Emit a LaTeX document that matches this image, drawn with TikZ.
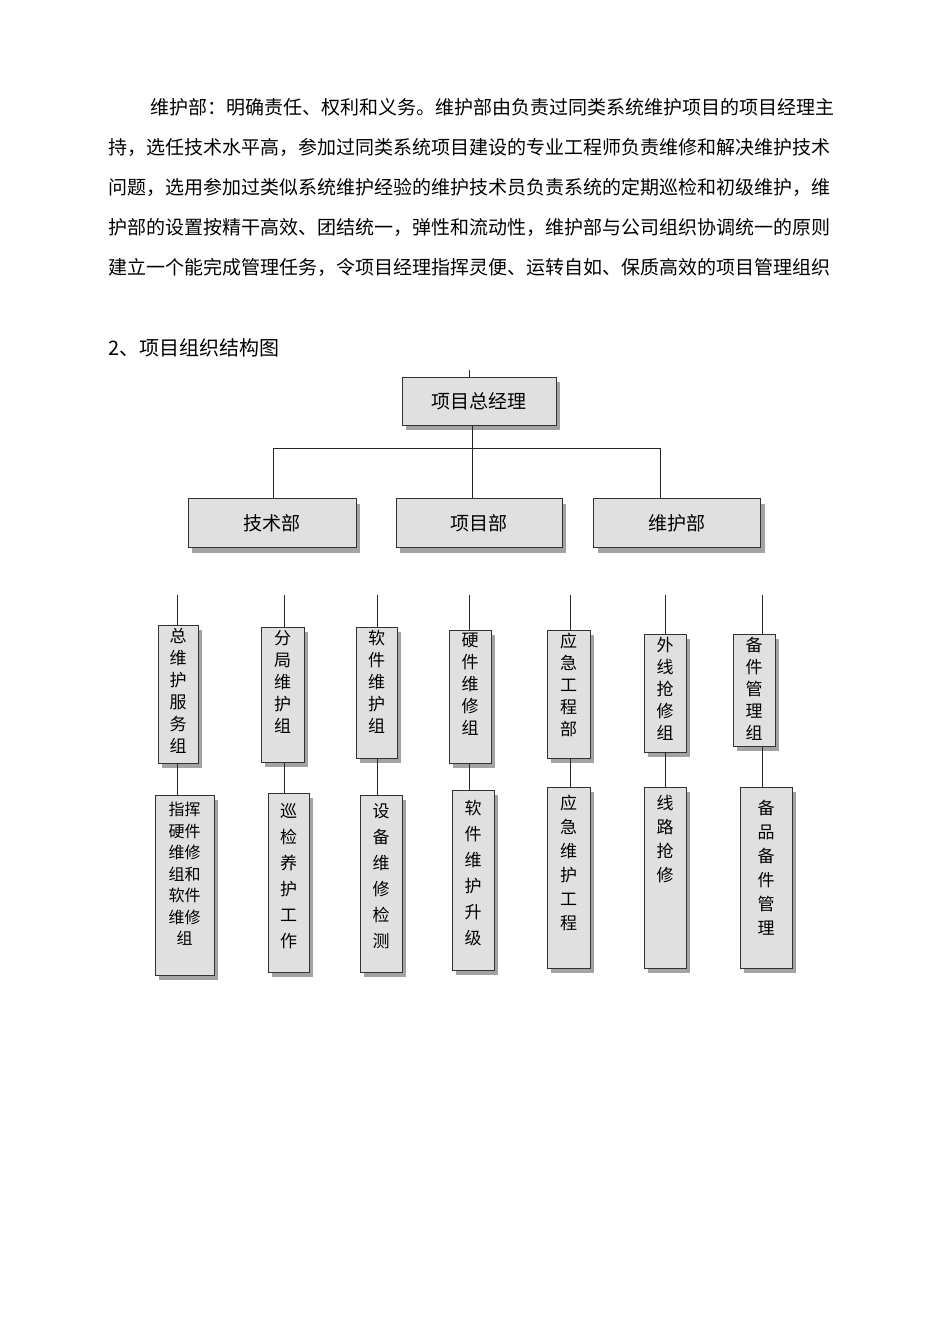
\documentclass[tikz,border=0pt]{standalone}
\usepackage{fontspec}
\setmainfont{Noto Sans CJK SC}
\usetikzlibrary{shadows}
\XeTeXlinebreaklocale "zh"
\XeTeXlinebreakskip=0pt plus 2pt
\begin{document}
\begin{tikzpicture}[x=1pt,y=-1pt,
  box/.style={draw=black!80,line width=0.8pt,fill=black!12,inner sep=0pt,
    drop shadow={shadow xshift=4pt,shadow yshift=-5pt,fill=black!45,opacity=0.8}},
  vtxt/.style={align=center,font=\fontsize{17}{22}\selectfont},
  ln/.style={draw=black!85,line width=0.8pt},
  para/.style={anchor=north west,inner sep=0pt,font=\fontsize{19}{20}\selectfont,
    text width=#1,align=justify}]
\useasboundingbox (0,0) rectangle (950,1344);
% paragraph
\node[para=690pt] (p1) at (150,98) {\parfillskip=0pt 维护部：明确责任、权利和义务。维护部由负责过同类系统维护项目的项目经理主};
\node[para=730pt] (p2) at (108,138) {\parfillskip=0pt 持，选任技术水平高，参加过同类系统项目建设的专业工程师负责维修和解决维护技术};
\node[para=730pt] (p3) at (108,178) {\parfillskip=0pt 问题，选用参加过类似系统维护经验的维护技术员负责系统的定期巡检和初级维护，维};
\node[para=730pt] (p4) at (108,218) {\parfillskip=0pt 护部的设置按精干高效、团结统一，弹性和流动性，维护部与公司组织协调统一的原则};
\node[para=730pt] (p5) at (108,258) {\parfillskip=0pt 建立一个能完成管理任务，令项目经理指挥灵便、运转自如、保质高效的项目管理组织};
\node[anchor=west,inner sep=0pt,font=\fontsize{20}{22}\selectfont] (h) at (108,348) {2、项目组织结构图};
% top
\node[box,minimum width=154pt,minimum height=48pt,font=\fontsize{19}{22}\selectfont] (top) at (479,401) {项目总经理};
\coordinate (topin) at (469,370);
\draw[ln] (topin) -- (469,377);
\node[box,minimum width=168pt,minimum height=49pt,font=\fontsize{19}{22}\selectfont] (d1) at (272,523) {技术部};
\node[box,minimum width=166pt,minimum height=49pt,font=\fontsize{19}{22}\selectfont] (d2) at (479,523) {项目部};
\node[box,minimum width=167pt,minimum height=49pt,font=\fontsize{19}{22}\selectfont] (d3) at (677,523) {维护部};
\draw[ln] (472,425) -- (472,448);
\draw[ln] (273,498) |- (660,448) -- (660,498);
\draw[ln] (472,448) -- (472,498);
% upper boxes
\foreach \n/\xa/\xb/\ya/\yb/\lx/\t in {
 1/158/198/625/763/177/{总\\维\\护\\服\\务\\组},
 2/261/304/627/762/284/{分\\局\\维\\护\\组},
 3/356/397/627/758/377/{软\\件\\维\\护\\组},
 4/449/491/630/763/469/{硬\\件\\维\\修\\组},
 5/547/590/630/758/570/{应\\急\\工\\程\\部},
 6/644/686/634/752/665/{外\\线\\抢\\修\\组},
 7/733/775/634/746/762/{备\\件\\管\\理\\组}}{
  \path[box] (\xa,\ya) rectangle (\xb,\yb);
  \node[vtxt,anchor=north,inner sep=0pt] (u\n) at ({(\xa+\xb)/2},\ya+3) {\t};
  \coordinate (ut\n) at (\lx,\ya);
  \coordinate (ub\n) at (\lx,\yb);
  \coordinate (uin\n) at (\lx,595);
  \draw[ln] (uin\n) -- (ut\n);
}
\foreach \n/\xa/\xb/\ya/\yb/\lx in {
 1/155/214/795/975/177,
 2/268/309/793/972/284,
 3/360/402/795/972/377,
 4/452/494/790/970/469,
 5/547/590/787/968/570,
 6/644/686/787/968/665,
 7/740/792/787/968/762}{
  \path[box] (\xa,\ya) rectangle (\xb,\yb);
  \coordinate (lt\n) at (\lx,\ya);
  \draw[ln] (ub\n) -- (lt\n);
}
\node[vtxt,anchor=north,inner sep=0pt,font=\fontsize{16}{21.5}\selectfont] (l1) at (184.5,802) {指挥\\硬件\\维修\\组和\\软件\\维修\\组};
\node[vtxt,anchor=north,inner sep=0pt,font=\fontsize{17}{26}\selectfont] (l2) at (288.5,803) {巡\\检\\养\\护\\工\\作};
\node[vtxt,anchor=north,inner sep=0pt,font=\fontsize{17}{26}\selectfont] (l3) at (381,803) {设\\备\\维\\修\\检\\测};
\node[vtxt,anchor=north,inner sep=0pt,font=\fontsize{17}{26}\selectfont] (l4) at (473,800) {软\\件\\维\\护\\升\\级};
\node[vtxt,anchor=north,inner sep=0pt,font=\fontsize{17}{24}\selectfont] (l5) at (568.5,795) {应\\急\\维\\护\\工\\程};
\node[vtxt,anchor=north,inner sep=0pt,font=\fontsize{17}{24}\selectfont] (l6) at (665,795) {线\\路\\抢\\修};
\node[vtxt,anchor=north,inner sep=0pt,font=\fontsize{17}{24}\selectfont] (l7) at (766,800) {备\\品\\备\\件\\管\\理};
\end{tikzpicture}
\end{document}
